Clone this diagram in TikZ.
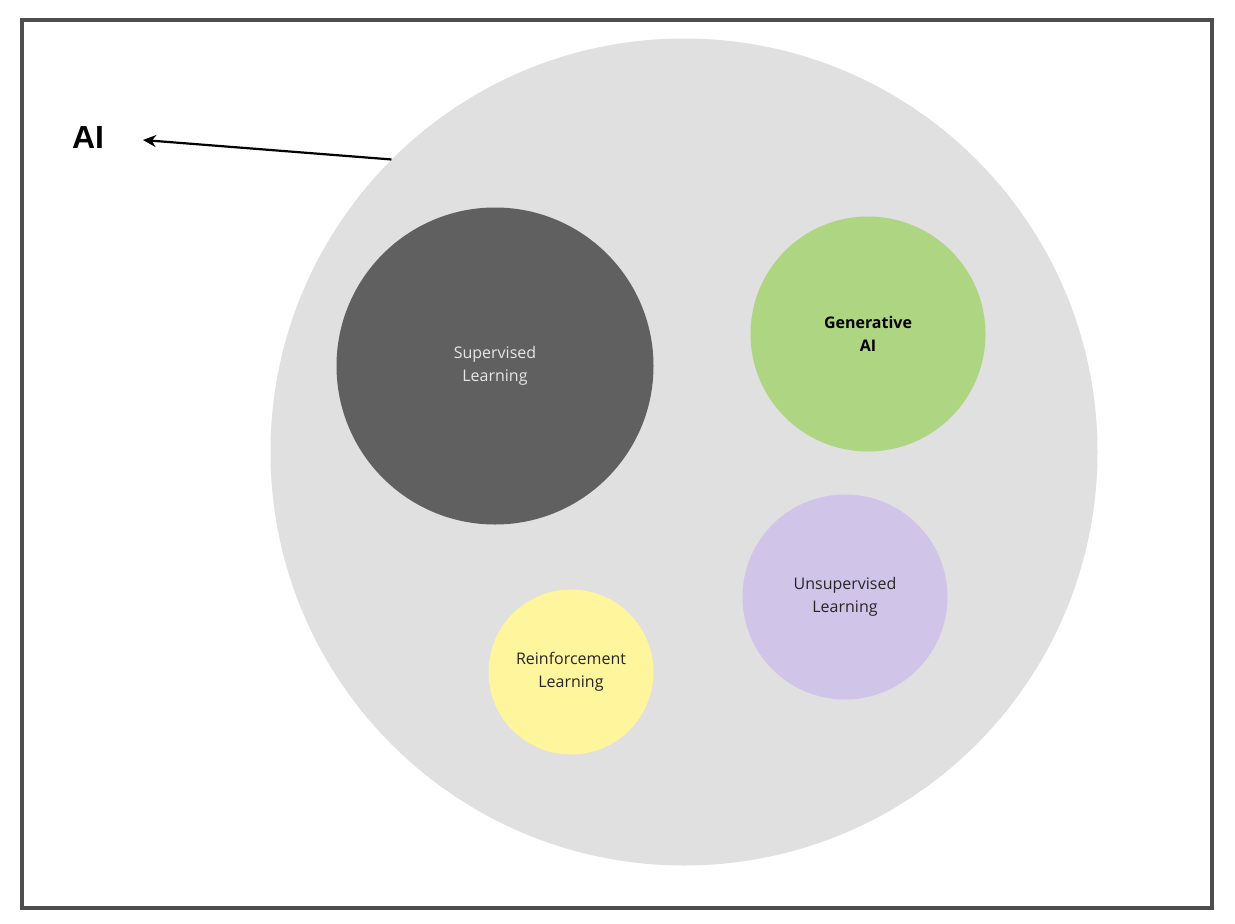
\documentclass[tikz,border=0pt]{standalone}
\usepackage{fontspec}
\setmainfont{Open Sans}
\newfontfamily\arialfont{Liberation Sans}
\usetikzlibrary{arrows.meta}
\definecolor{framegray}{HTML}{4D4D4D}
\definecolor{biggray}{HTML}{E0E0E0}
\definecolor{supgray}{HTML}{606060}
\definecolor{gengreen}{HTML}{AED581}
\definecolor{unspurple}{HTML}{D1C4E9}
\definecolor{reinyellow}{HTML}{FFF59D}
\definecolor{suptext}{HTML}{E6E6E6}
\begin{document}
\begin{tikzpicture}[x=1pt,y=-1pt,
  bubble/.style={circle,draw=none,inner sep=0pt,align=center,
    font=\fontsize{16}{23}\selectfont},
  arrowline/.style={line width=2.2pt,-{Stealth[length=13pt,width=12pt]}}]
\useasboundingbox (0,0) rectangle (1235,924);
\fill[white] (0,0) rectangle (1235,924);
\draw[framegray,line width=4pt] (21.5,19.5) rectangle (1211.5,908);
\node[bubble,fill=biggray,minimum size=827pt] (big) at (684,452) {};
\node[bubble,fill=supgray,minimum size=317pt,text=suptext] (sup) at (495,366) {Supervised\\Learning};
\node[bubble,fill=gengreen,minimum size=235pt,text=black,font=\fontsize{16}{23}\selectfont\bfseries] (gen) at (868,334) {Generative\\AI};
\node[bubble,fill=unspurple,minimum size=205pt,text=black!85] (uns) at (845,597) {Unsupervised\\Learning};
\node[bubble,fill=reinyellow,minimum size=165pt,text=black!85] (rein) at (571,672) {Reinforcement\\Learning};
\node[font=\arialfont\bfseries\fontsize{32}{36}\selectfont,inner sep=0pt] (ai) at (88,137) {AI};
\coordinate (aitip) at (143,140);
\draw[arrowline] (big.135) -- (aitip);
\end{tikzpicture}
\end{document}
